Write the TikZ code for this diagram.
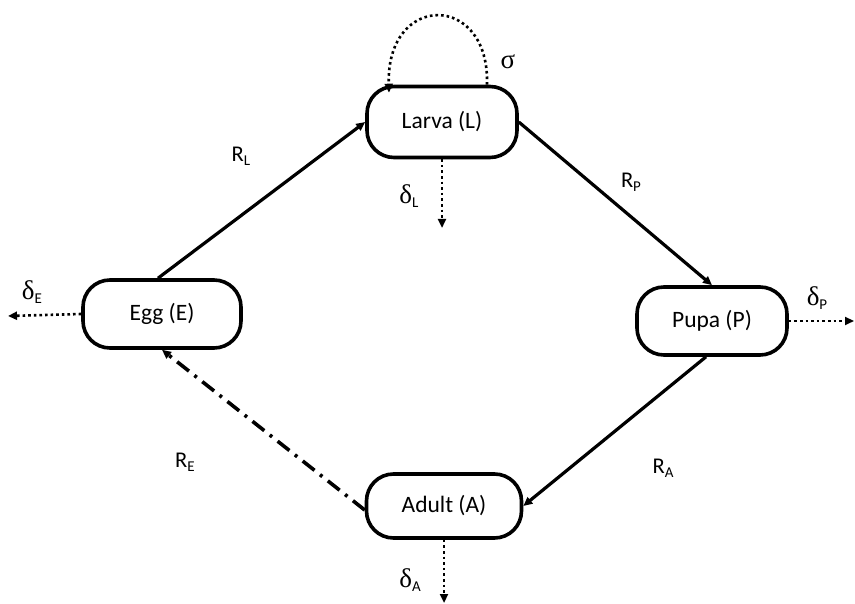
\documentclass[tikz,border=0pt]{standalone}
\usepackage{fontspec}
\setmainfont{Carlito}
\newfontfamily\grk{Liberation Serif}
\usetikzlibrary{arrows.meta}
% subscripted rate label
\newcommand{\sublab}[2]{{#1}\raisebox{-0.4ex}{\fontsize{15}{15}\selectfont #2}}
\newcommand{\gsym}[1]{{\grk\fontsize{27}{27}\selectfont #1}}
\begin{document}
\begin{tikzpicture}[x=1pt,y=-1pt,
  stage/.style={draw, line width=3.6pt, rounded corners=27pt, minimum width=150pt,
    minimum height=71pt, font=\fontsize{23.5}{26}\selectfont, inner sep=0pt},
  tip/.style={-{Triangle[length=9pt,width=8pt]}},
  flow/.style={tip, line width=3.2pt},
  loss/.style={tip, line width=2.6pt, dash pattern=on 2.6pt off 3pt},
  feed/.style={tip, line width=3.6pt, dash pattern=on 15pt off 7pt on 3pt off 7pt},
  lab/.style={font=\fontsize{22.5}{24}\selectfont, inner sep=0pt}]
\useasboundingbox (0,0) rectangle (855,604);

% life stages
\node[stage] (L) at (442,122) {Larva (L)};
\node[stage, minimum width=158pt, minimum height=68pt] (E) at (162,314) {Egg (E)};
\node[stage, minimum height=68pt] (P) at (712,321) {Pupa (P)};
\node[stage, minimum width=155pt, minimum height=64pt] (A) at (444,506) {Adult (A)};

% free ends of the loss arrows
\coordinate (dL) at (442,228);
\coordinate (dE) at (8,316);
\coordinate (dP) at (854,321);
\coordinate (dA) at (444,603);

% development transitions
\draw[flow] ([xshift=-4pt]E.north) -- (L.west);
\draw[flow] (L.east) -- (P.north);
\draw[flow] ([xshift=-6pt]P.south) -- (A.east);
\draw[feed] ([yshift=-4pt]A.west) -- (E.south);

% larval self-interaction
\draw[loss] ([xshift=45pt]L.north) .. controls (490,-8) and (386,-8) .. ([xshift=-53pt,yshift=-8pt]L.north);

% mortality
\draw[loss] (L.south) -- (dL);
\draw[loss] (E.west) -- (dE);
\draw[loss] (P.east) -- (dP);
\draw[loss] (A.south) -- (dA);

% rate labels
\node[lab] (sig) at (508,62) {\gsym{σ}};
\node[lab] (rl) at (241,156) {\sublab{R}{L}};
\node[lab] (dl) at (409,196) {\sublab{\gsym{δ}}{L}};
\node[lab] (rp) at (631,182) {\sublab{R}{P}};
\node[lab] (de) at (32,292) {\sublab{\gsym{δ}}{E}};
\node[lab] (dp) at (817,298) {\sublab{\gsym{δ}}{P}};
\node[lab] (re) at (185,462) {\sublab{R}{E}};
\node[lab] (ra) at (663,468) {\sublab{R}{A}};
\node[lab] (da) at (410,580) {\sublab{\gsym{δ}}{A}};
\end{tikzpicture}
\end{document}
